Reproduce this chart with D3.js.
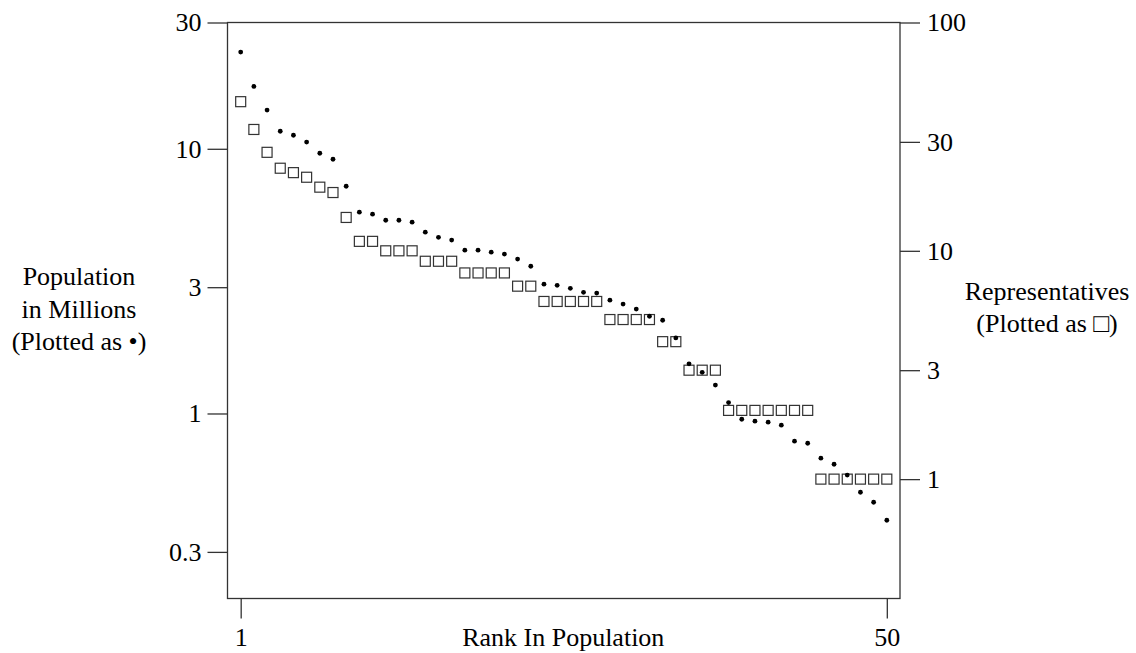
<!DOCTYPE html>
<html lang="en">
<head>
  <meta charset="UTF-8">
  <title>Population and Representatives by Rank</title>
  <style>
    body { margin: 0; background: #fff; }
    svg text { font-family: "Liberation Serif", Tinos, "Times New Roman", Times, "DejaVu Serif", "Noto Serif", serif; fill: #000; }
  </style>
</head>
<body>
  <script src="https://cdn.jsdelivr.net/npm/d3@7"></script>
  <script>
    // data (rank 1..50)
    let ranks = d3.range(1, 51);
    let population = [23.2, 17.2, 14.0, 11.65, 11.25, 10.6, 9.62, 9.13, 7.22, 5.76,
                      5.66, 5.37, 5.37, 5.28, 4.84, 4.63, 4.52, 4.14, 4.14, 4.07,
                      4.00, 3.83, 3.60, 3.08, 3.05, 2.97, 2.87, 2.85, 2.68, 2.59,
                      2.48, 2.33, 2.25, 1.93, 1.54, 1.43, 1.28, 1.10, 0.951, 0.935,
                      0.927, 0.903, 0.786, 0.772, 0.678, 0.643, 0.585, 0.504, 0.462, 0.395];
    let representatives = [45, 34, 27, 23, 22, 21, 19, 18, 14, 11,
                           11, 10, 10, 10, 9, 9, 9, 8, 8, 8,
                           8, 7, 7, 6, 6, 6, 6, 6, 5, 5,
                           5, 5, 4, 4, 3, 3, 3, 2, 2, 2,
                           2, 2, 2, 2, 1, 1, 1, 1, 1, 1];
    let popTicks = [30, 10, 3, 1, 0.3];
    let repTicks = [100, 30, 10, 3, 1];
    let rankTicks = [1, 50];

    let width = 1136;
    let height = 653;
    let plotL = 227.5, plotR = 900, plotT = 22.5, plotB = 598.5;
    let ink = '#333';

    let svg = d3.select('body')
                .append('svg')
                .attr('width', width)
                .attr('height', height);

    let x = d3.scaleLinear().domain([0, 51]).range([plotL, plotR]);
    let yPop = d3.scaleLog().domain([0.2, 30]).range([plotB, plotT]);
    let yRep = d3.scaleLog().domain([0.3, 100]).range([plotB, plotT]);

    // frame
    svg.append('rect')
       .attr('x', plotL)
       .attr('y', plotT)
       .attr('width', plotR - plotL)
       .attr('height', plotB - plotT)
       .attr('fill', 'none')
       .attr('stroke', ink)
       .attr('stroke-width', 1.3);

    function styleAxis(g) {
      g.attr('font-family', null).attr('font-size', null);
      g.select('.domain').remove();
      g.selectAll('.tick line').attr('stroke', ink).attr('stroke-width', 1.3);
      g.selectAll('.tick text')
       .attr('fill', '#000')
       .style('font-size', '26px');
    }

    svg.append('g')
       .attr('transform', `translate(${plotL},0)`)
       .call(d3.axisLeft(yPop).tickValues(popTicks).tickFormat(d3.format('')).tickSize(20).tickPadding(6))
       .call(styleAxis);

    svg.append('g')
       .attr('transform', `translate(${plotR},0)`)
       .call(d3.axisRight(yRep).tickValues(repTicks).tickFormat(d3.format('')).tickSize(20).tickPadding(7))
       .call(styleAxis);

    svg.append('g')
       .attr('transform', `translate(0,${plotB})`)
       .call(d3.axisBottom(x).tickValues(rankTicks).tickFormat(d3.format('')).tickSize(20).tickPadding(9))
       .call(styleAxis);

    // representatives as open squares
    let sq = 10;
    svg.selectAll('rect.rep')
       .data(ranks)
       .enter()
       .append('rect')
       .attr('class', 'rep')
       .attr('x', d => x(d) - sq / 2)
       .attr('y', (d, i) => yRep(representatives[i]) - sq / 2)
       .attr('width', sq)
       .attr('height', sq)
       .attr('fill', 'none')
       .attr('stroke', ink)
       .attr('stroke-width', 1.2);

    // population as dots
    svg.selectAll('circle.pop')
       .data(ranks)
       .enter()
       .append('circle')
       .attr('class', 'pop')
       .attr('cx', d => x(d))
       .attr('cy', (d, i) => yPop(population[i]))
       .attr('r', 2.4)
       .attr('fill', '#000');

    // titles
    svg.append('text')
       .attr('x', (plotL + plotR) / 2 - 0.5)
       .attr('y', 646)
       .attr('text-anchor', 'middle')
       .style('font-size', '26px')
       .text('Rank In Population');

    let leftTitle = ['Population', 'in Millions', '(Plotted as \u2022)'];
    svg.append('text')
       .attr('text-anchor', 'middle')
       .style('font-size', '26px')
       .selectAll('tspan')
       .data(leftTitle)
       .enter()
       .append('tspan')
       .attr('x', 79)
       .attr('y', (d, i) => 285 + i * 32.5)
       .text(d => d);

    let rightTitle = ['Representatives', '(Plotted as \u25A1)'];
    svg.append('text')
       .attr('text-anchor', 'middle')
       .style('font-size', '26px')
       .selectAll('tspan')
       .data(rightTitle)
       .enter()
       .append('tspan')
       .attr('x', 1047)
       .attr('y', (d, i) => 300 + i * 32)
       .text(d => d);
  </script>
</body>
</html>
